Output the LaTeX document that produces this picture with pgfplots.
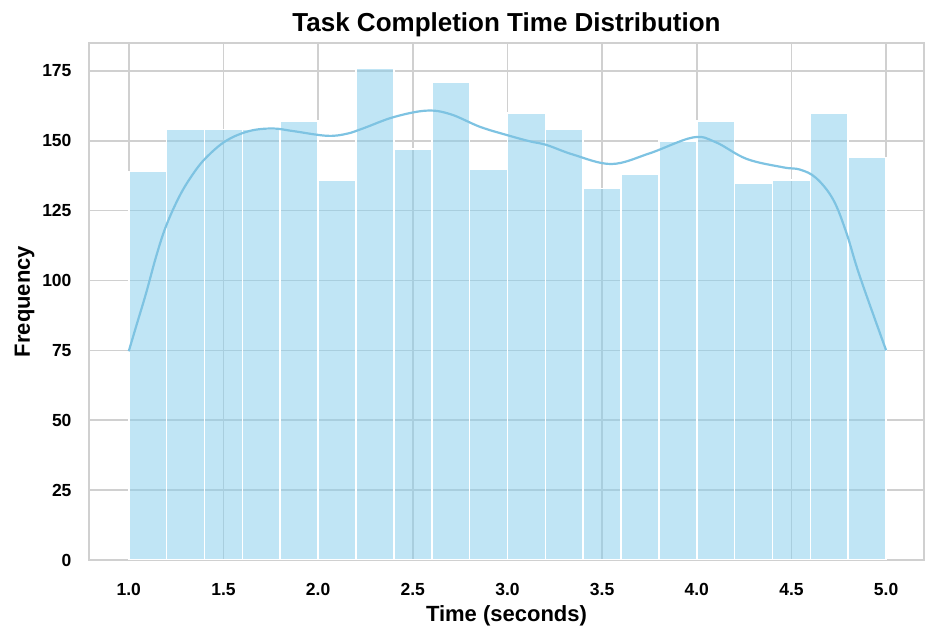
\documentclass[border=0pt]{standalone}
\usepackage{pgfplots}
\pgfplotsset{compat=1.18}
\usepackage{fontspec}
\setmainfont{Liberation Sans}
\usetikzlibrary{calc}
\definecolor{skyblue}{HTML}{87CEEB}
\definecolor{kdeline}{HTML}{7EC3E2}
\definecolor{gridgray}{HTML}{D0D0D0}
\begin{document}
\begin{tikzpicture}
\begin{axis}[
  name=ax,
  at={(0,0)}, anchor=south west,
  scale only axis,
  width=835pt, height=517pt,
  xmin=0.79, xmax=5.2,
  ymin=0, ymax=185,
  xtick={1.0,1.5,2.0,2.5,3.0,3.5,4.0,4.5,5.0},
  xticklabels={1.0,1.5,2.0,2.5,3.0,3.5,4.0,4.5,5.0},
  ytick={0,25,50,75,100,125,150,175},
  /pgf/number format/assume math mode=true,
  tick label style={font=\fontsize{17.5}{19}\selectfont\bfseries},
  label style={font=\fontsize{22}{26}\selectfont\bfseries},
  title style={font=\fontsize{26}{30}\selectfont\bfseries, yshift=-3pt},
  title={Task Completion Time Distribution},
  xlabel={Time (seconds)},
  ylabel={Frequency},
  xlabel style={yshift=-3pt},
  ylabel style={yshift=1pt},
  xtick style={draw=none}, ytick style={draw=none},
  major tick length=0pt,
  xticklabel style={yshift=-20pt},
  yticklabel style={xshift=-14pt},
  grid=major,
  major grid style={draw=gridgray, line width=1.6pt},
  axis line style={draw=gridgray, line width=1.6pt},
  axis on top=false,
]
\addplot[ybar interval, fill=skyblue, fill opacity=0.52, draw=white, line width=1.6pt] coordinates {
(1.0,139) (1.2,154) (1.4,154) (1.6,154) (1.8,157) (2.0,136) (2.2,176) (2.4,147) (2.6,171) (2.8,140)
(3.0,160) (3.2,154) (3.4,133) (3.6,138) (3.8,150) (4.0,157) (4.2,135) (4.4,136) (4.6,160) (4.8,144) (5.0,144)
};
\addplot[kdeline, line width=2.2pt, smooth, tension=0.6, mark=none] coordinates {
(1.0,74.7) (1.039,83.6) (1.092,95.6) (1.145,108.7) (1.197,119.5) (1.268,130.2) (1.338,138) (1.409,144)
(1.514,150) (1.637,153.5) (1.76,154.4) (1.866,153.5)
(2.045,151.8) (2.15,152.5) (2.24,154.5) (2.4,158.5) (2.573,160.8) (2.7,159.5) (2.855,155) (3.0,152)
(3.119,149.8) (3.207,148.5) (3.35,145) (3.55,141.7) (3.75,145.5) (3.98,151.2) (4.1,149.5) (4.264,143.5)
(4.457,140.5) (4.545,139.7) (4.63,136.7) (4.72,129) (4.79,117.1) (4.86,101.7) (5.0,75)
};
\end{axis}
\pgfresetboundingbox
\path[use as bounding box] ($(ax.south west)+(-89pt,-82pt)$) rectangle ($(ax.north east)+(13pt,43pt)$);
\end{tikzpicture}
\end{document}
